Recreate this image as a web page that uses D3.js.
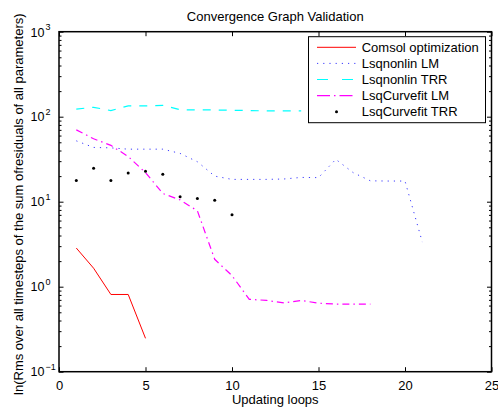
<!DOCTYPE html>
<html>
<head>
<meta charset="utf-8">
<script src="https://cdnjs.cloudflare.com/ajax/libs/d3/7.8.5/d3.min.js"></script>
<style>
  body { margin: 0; background: #fff; }
  text { font-family: "Liberation Sans", Arial, sans-serif; fill: #000; }
</style>
</head>
<body>
<div id="chart"></div>
<script>
// values, x = updating loop 1..n
const seriesNames = ["Comsol optimization", "Lsqnonlin LM", "Lsqnonlin TRR", "LsqCurvefit LM", "LsqCurvefit TRR"];
const comsolOpt = [2.85, 1.65, 0.81, 0.81, 0.247];
const lsqnonlinLM = [52, 43.5, 43, 41.5, 41.5, 41.5, 37, 29.5, 20, 18.3, 18.3, 18.3, 18.5, 19.3, 19.2, 31.5, 22, 17.6, 17.5, 17.5, 3.35];
const lsqnonlinTRR = [123, 129, 118, 134, 134, 136, 121, 120, 120, 119, 118, 117, 117, 117];
const lsqCurvefitLM = [70, 55, 46, 34, 22, 12.5, 10.5, 7.8, 2.1, 1.35, 0.71, 0.69, 0.645, 0.69, 0.64, 0.625, 0.625, 0.625];
const lsqCurvefitTRR = [17.7, 24.7, 17.7, 21.8, 22.8, 21.0, 11.4, 10.9, 10.4, 7.0];
const xTicks = [0, 5, 10, 15, 20, 25];
const yExponents = [-1, 0, 1, 2, 3];

// set the dimensions and margins of the graph
const margin = {top: 31.7, right: 6.5, bottom: 37.3, left: 59},
    width = 498 - margin.left - margin.right,
    height = 409 - margin.top - margin.bottom;

const svg = d3.select("#chart")
  .append("svg")
    .attr("width", 498)
    .attr("height", 409)
    .style("background", "#fff");

const g = svg.append("g")
    .attr("transform", `translate(${margin.left},${margin.top})`);

const x = d3.scaleLinear().domain([0, 25]).range([0, width]);
const y = d3.scaleLog().domain([0.1, 1000]).range([height, 0]);

const majors = yExponents.map(e => Math.pow(10, e));
const minors = [];
yExponents.slice(0, -1).forEach(e => {
  for (let k = 2; k <= 9; k++) minors.push(k * Math.pow(10, e));
});

// axes (ticks point inward like matlab)
g.append("g")
    .attr("class", "axis")
    .attr("transform", `translate(0,${height})`)
    .call(d3.axisBottom(x).tickValues(xTicks).tickSizeInner(-4.5).tickSizeOuter(0).tickPadding(8.7))
    .call(a => a.selectAll("text").style("font-size", "13px"));
g.append("g")
    .attr("class", "axis")
    .call(d3.axisTop(x).tickValues(xTicks).tickSizeInner(-4.5).tickSizeOuter(0).tickFormat(""));
g.append("g").attr("class", "axis")
    .call(d3.axisLeft(y).tickValues(majors).tickSizeInner(-4.5).tickSizeOuter(0).tickFormat(""));
g.append("g").attr("class", "axis")
    .call(d3.axisLeft(y).tickValues(minors).tickSizeInner(-2.5).tickSizeOuter(0).tickFormat(""));
g.append("g").attr("class", "axis")
    .attr("transform", `translate(${width},0)`)
    .call(d3.axisRight(y).tickValues(majors).tickSizeInner(-4.5).tickSizeOuter(0).tickFormat(""));
g.append("g").attr("class", "axis")
    .attr("transform", `translate(${width},0)`)
    .call(d3.axisRight(y).tickValues(minors).tickSizeInner(-2.5).tickSizeOuter(0).tickFormat(""));
g.selectAll(".axis .domain").remove();
g.selectAll(".axis line").attr("stroke", "#000").attr("stroke-width", 1);

// y tick labels 10^n
const ylab = g.append("g")
  .selectAll("text")
  .data(yExponents)
  .join("text")
    .attr("x", -28.5)
    .attr("y", d => y(Math.pow(10, d)) + 4.8)
    .style("font-size", "12.5px");
ylab.append("tspan").text("10");
ylab.append("tspan")
    .attr("dx", 1)
    .attr("dy", -6.5)
    .style("font-size", "9px")
    .text(d => d < 0 ? "\u2212" + Math.abs(d) : d);

// box
g.append("rect")
    .attr("width", width)
    .attr("height", height)
    .attr("fill", "none")
    .attr("stroke", "#000")
    .attr("stroke-width", 1.5);

const line = d3.line()
    .x((d, i) => x(i + 1))
    .y(d => y(d));

g.append("path").datum(comsolOpt)
    .attr("d", line).attr("fill", "none")
    .attr("stroke", "#ff0000").attr("stroke-width", 1);
g.append("path").datum(lsqnonlinLM)
    .attr("d", line).attr("fill", "none")
    .attr("stroke", "#3b3bff").attr("stroke-width", 1)
    .attr("stroke-dasharray", "1.2,5");
g.append("path").datum(lsqnonlinTRR)
    .attr("d", line).attr("fill", "none")
    .attr("stroke", "#00ffff").attr("stroke-width", 1.2)
    .attr("stroke-dasharray", "8,8");
g.append("path").datum(lsqCurvefitLM)
    .attr("d", line).attr("fill", "none")
    .attr("stroke", "#ff00ff").attr("stroke-width", 1.2)
    .attr("stroke-dasharray", "7,4,1.5,4");
g.append("g")
  .selectAll("circle")
  .data(lsqCurvefitTRR)
  .join("circle")
    .attr("cx", (d, i) => x(i + 1))
    .attr("cy", d => y(d))
    .attr("r", 1.5)
    .attr("fill", "#000");

// title and labels
svg.append("text")
    .attr("x", margin.left + width / 2)
    .attr("y", 21)
    .attr("text-anchor", "middle")
    .style("font-size", "13px")
    .text("Convergence Graph Validation");
svg.append("text")
    .attr("x", margin.left + width / 2)
    .attr("y", 404)
    .attr("text-anchor", "middle")
    .style("font-size", "13px")
    .text("Updating loops");
svg.append("text")
    .attr("transform", "translate(22.5,204.2) rotate(-90)")
    .attr("text-anchor", "middle")
    .style("font-size", "13px")
    .text("ln(Rms over all timesteps of the sum ofresiduals of all parameters)");

// legend
const legend = svg.append("g").attr("transform", "translate(308.5,36.7)");
legend.append("rect")
    .attr("width", 177)
    .attr("height", 86)
    .attr("fill", "#fff")
    .attr("stroke", "#000")
    .attr("stroke-width", 1);
const styles = [
  {color: "#ff0000", dash: null, w: 1},
  {color: "#3b3bff", dash: "1.2,5", w: 1},
  {color: "#00ffff", dash: "11,14", w: 1.2},
  {color: "#ff00ff", dash: "13,4,1.5,4", w: 1.2},
  {color: "#000", dash: null, w: 0}
];
const rows = legend.selectAll("g.row")
  .data(seriesNames)
  .join("g")
    .attr("class", "row")
    .attr("transform", (d, i) => `translate(0,${10.6 + i * 16.1})`);
rows.filter((d, i) => i < 4).append("line")
    .attr("x1", 8.5).attr("x2", 47.5)
    .attr("stroke", (d, i) => styles[i].color)
    .attr("stroke-width", (d, i) => styles[i].w)
    .attr("stroke-dasharray", (d, i) => styles[i].dash);
rows.filter((d, i) => i === 4).append("circle")
    .attr("cx", 28).attr("r", 1.5).attr("fill", "#000");
rows.append("text")
    .attr("x", 53.2)
    .attr("y", 4.6)
    .style("font-size", "13px")
    .text(d => d);
</script>
</body>
</html>
